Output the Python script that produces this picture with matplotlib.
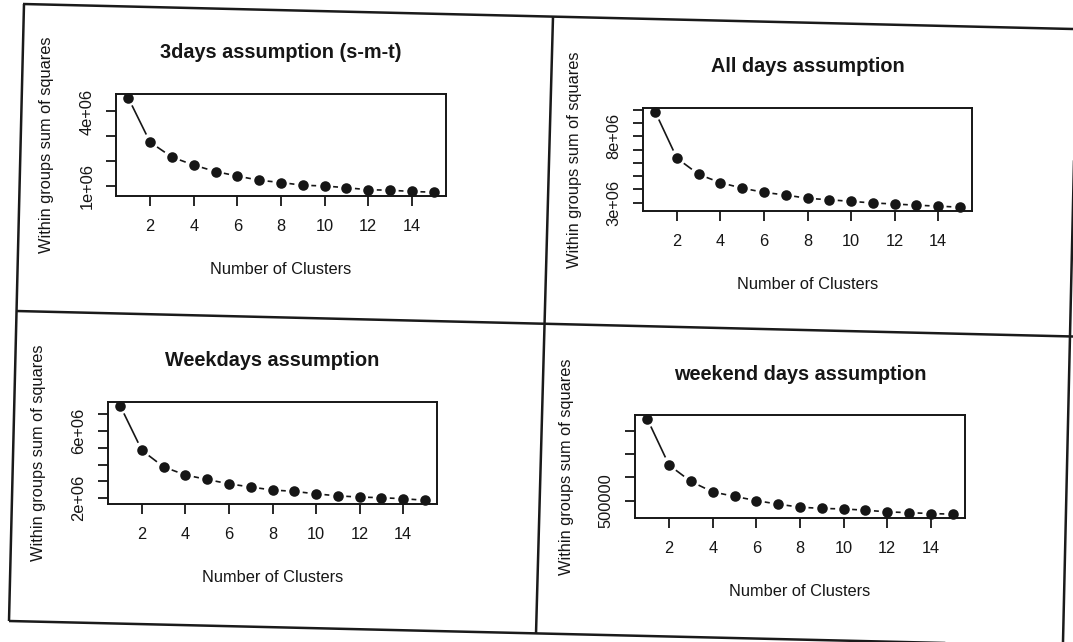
import numpy as np
import matplotlib
matplotlib.use("Agg")
import matplotlib.pyplot as plt
from matplotlib.lines import Line2D

plt.rcParams['font.family'] = ['Liberation Sans', 'DejaVu Sans']

# k-means elbow curves: total within-cluster sum of squares for k = 1..15
clusters = list(range(1, 16))

three_days_wss = [4.55e6, 2.77e6, 2.17e6, 1.85e6, 1.59e6, 1.41e6, 1.24e6, 1.15e6,
                  1.04e6, 1.01e6, 0.94e6, 0.86e6, 0.84e6, 0.79e6, 0.76e6]
all_days_wss = [9.86e6, 6.35e6, 5.13e6, 4.50e6, 4.09e6, 3.77e6, 3.57e6, 3.32e6,
                3.21e6, 3.09e6, 2.97e6, 2.89e6, 2.80e6, 2.73e6, 2.65e6]
weekdays_wss = [7.52e6, 4.85e6, 3.86e6, 3.38e6, 3.11e6, 2.85e6, 2.66e6, 2.48e6,
                2.40e6, 2.25e6, 2.13e6, 2.06e6, 2.02e6, 1.96e6, 1.87e6]
weekend_wss = [2.25e6, 1.26e6, 0.91e6, 0.686e6, 0.591e6, 0.50e6, 0.424e6, 0.36e6,
               0.333e6, 0.322e6, 0.295e6, 0.26e6, 0.242e6, 0.224e6, 0.21e6]

titles = ["3days assumption (s-m-t)", "All days assumption",
          "Weekdays assumption", "weekend days assumption"]

x_ticks = [2, 4, 6, 8, 10, 12, 14]

y_ticks = [
    [1e6, 2e6, 3e6, 4e6],
    [3e6, 4e6, 5e6, 6e6, 7e6, 8e6, 9e6, 10e6],
    [2e6, 3e6, 4e6, 5e6, 6e6, 7e6],
    [0.5e6, 1.0e6, 1.5e6, 2.0e6],
]
y_tick_labels = [
    ["1e+06", "", "", "4e+06"],
    ["3e+06", "", "", "", "", "8e+06", "", ""],
    ["2e+06", "", "", "", "6e+06", ""],
    ["500000", "", "", ""],
]

series = [three_days_wss, all_days_wss, weekdays_wss, weekend_wss]

W, H = 1073, 642
fig = plt.figure(figsize=(W / 100, H / 100), dpi=100)
fig.patch.set_facecolor("white")

INK = "#161616"

# plot-region boxes in pixels: left, right, top, bottom
boxes = [
    (116, 446, 94, 196),
    (643, 972, 108, 211),
    (108, 437, 402, 504),
    (635, 965, 415, 518),
]


def px_axes(l, r, t, b):
    return fig.add_axes([l / W, 1 - b / H, (r - l) / W, (b - t) / H])


GAP = 8.5  # pixels of line left open around each point (R type="b")

for (l, r, t, b), values, title, yt, ytl in zip(boxes, series, titles, y_ticks, y_tick_labels):
    ax = px_axes(l, r, t, b)
    h = b - t
    w = r - l
    lo, hi = min(values), max(values)
    pad = 0.04 * (hi - lo)
    ax.set_ylim(lo - pad, hi + pad)
    ax.set_xlim(1 - 0.04 * 14, 15 + 0.04 * 14)

    for s in ax.spines.values():
        s.set_linewidth(1.4)
        s.set_color(INK)

    ax.set_xticks(x_ticks)
    ax.set_xticklabels([str(v) for v in x_ticks])
    ax.set_yticks(yt)
    ax.set_yticklabels(ytl)
    ax.tick_params(axis="both", direction="out", length=7, width=1.3, color=INK,
                   labelsize=11.8, labelcolor=INK)
    ax.tick_params(axis="x", pad=9.5)
    ax.tick_params(axis="y", pad=8.5, labelrotation=90)
    for lab in ax.get_yticklabels():
        lab.set_va("center")

    ax.set_xlabel("Number of Clusters", fontsize=11.8, color=INK)
    ax.xaxis.set_label_coords(0.5, -73.5 / h)
    ax.xaxis.label.set_va("center")
    ax.set_ylabel("Within groups sum of squares", fontsize=11.8, color=INK)
    ax.yaxis.set_label_coords(-69 / w, 0.5)
    ax.yaxis.label.set_va("center")

    ax.set_title(title, fontsize=14.3, fontweight="bold", color=INK,
                 y=1 + 41 / h, va="center", pad=0)

    # connecting segments, shortened at both ends in display space
    pts = ax.transData.transform(np.column_stack([clusters, values]))
    inv = ax.transData.inverted()
    for p0, p1 in zip(pts[:-1], pts[1:]):
        d = p1 - p0
        n = np.hypot(*d)
        if n <= 2 * GAP:
            continue
        u = d / n
        a = inv.transform(p0 + u * GAP)
        bb = inv.transform(p1 - u * GAP)
        ax.plot([a[0], bb[0]], [a[1], bb[1]], color=INK, lw=1.2,
                solid_capstyle="butt")

    ax.plot(clusters, values, linestyle="none", marker="o", markersize=7.6,
            color=INK, markeredgewidth=0, clip_on=False, zorder=3)


# panel frame lines of the page (slightly skewed)
def frame_line(x0, y0, x1, y1, lw=1.8):
    fig.add_artist(Line2D([x0 / W, x1 / W], [1 - y0 / H, 1 - y1 / H],
                          transform=fig.transFigure, color="#1a1a1a", lw=lw,
                          solid_capstyle="butt"))


frame_line(23, 4, 1073, 29)           # top
frame_line(24, 4, 9, 621)             # left
frame_line(9, 621, 1073, 646)         # bottom
frame_line(1077, 29, 1063, 642)       # right
frame_line(16, 311, 1073, 336.5)      # middle horizontal
frame_line(553, 17, 536, 634)         # middle vertical

fig.savefig("out.png", dpi=100, facecolor="white")
